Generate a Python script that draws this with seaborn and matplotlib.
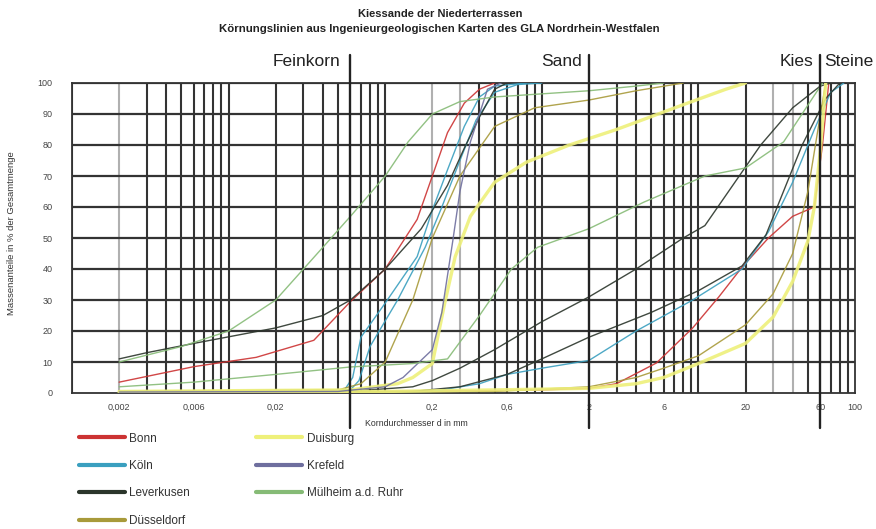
import numpy as np
import pandas as pd
import seaborn as sns
import matplotlib.pyplot as plt
from matplotlib.lines import Line2D

# Korndurchmesser d (mm) und Massenanteile (%) je Koernungslinie
bonn_1_d = [0.002, 0.006, 0.015, 0.035, 0.06, 0.1, 0.16, 0.2, 0.25, 0.32, 0.4, 0.5]
bonn_1_p = [3.5, 8.5, 11.5, 17, 29.5, 40, 56, 70, 84, 93.5, 98, 100]
bonn_2_d = [0.002, 0.1, 0.5, 1, 2, 3, 5.4, 9.2, 13.5, 19, 28, 40, 55, 62, 68]
bonn_2_p = [0.3, 0.5, 0.8, 1, 1.5, 3, 9.7, 21, 31, 40.6, 50, 57, 60, 80, 100]

koeln_1_d = [0.002, 0.03, 0.055, 0.062, 0.07, 0.1, 0.16, 0.2, 0.25, 0.32, 0.4, 0.5, 0.8]
koeln_1_p = [0.3, 0.5, 1, 5, 18, 29, 44, 59, 72, 86, 95.5, 99, 100]
koeln_2_d = [0.002, 0.03, 0.06, 0.068, 0.08, 0.12, 0.18, 0.23, 0.3, 0.38, 0.5, 0.7, 1.0]
koeln_2_p = [0.2, 0.4, 1, 4, 15, 30, 47, 60, 75, 88, 97, 99.5, 100]
koeln_3_d = [0.002, 0.2, 0.4, 0.6, 1, 2, 4, 9.2, 19, 28, 40, 55, 70, 85]
koeln_3_p = [0, 0.5, 3, 6, 8, 10.5, 20, 30, 40, 52, 68, 85, 97, 100]

lev_1_d = [0.002, 0.003, 0.006, 0.02, 0.04, 0.06, 0.1, 0.17, 0.25, 0.32, 0.4, 0.5, 0.6]
lev_1_p = [11, 13, 16, 21, 25, 30, 40, 53, 67, 79, 89, 98, 100]
lev_2_d = [0.002, 0.08, 0.15, 0.2, 0.3, 0.5, 1, 2, 4, 8, 11, 25, 40, 60, 70]
lev_2_p = [0.5, 1, 2, 4, 8, 14, 23, 31, 40, 50, 54, 80, 92, 99, 100]
lev_3_d = [0.002, 0.15, 0.3, 0.6, 1, 2, 5, 10, 19, 27, 46, 65, 80]
lev_3_p = [0, 0.5, 2, 6, 11, 18, 26, 33, 41, 51, 80, 95, 100]

dus_1_d = [0.002, 0.05, 0.07, 0.1, 0.15, 0.2, 0.3, 0.5, 0.9, 2, 4, 8]
dus_1_p = [0.5, 1, 3, 10, 30, 50, 70, 86, 92, 94.5, 97.5, 100]
dus_2_d = [0.002, 0.5, 2, 4, 6, 10, 20, 30, 40, 50, 58, 65]
dus_2_p = [0, 0.5, 2, 5, 8, 12, 22, 32, 45, 65, 85, 100]

duis_1_d = [0.002, 0.06, 0.12, 0.15, 0.2, 0.24, 0.28, 0.35, 0.5, 0.8, 1.5, 3, 8, 15, 20]
duis_1_p = [0.5, 1, 3, 5, 9.5, 29, 44, 57, 68, 74.5, 80, 85, 93, 98, 100]
duis_2_d = [0.002, 0.1, 0.5, 2, 4, 6, 10, 20, 30, 40, 50, 55, 60, 65]
duis_2_p = [0, 0.5, 1, 1.5, 3, 5, 9.5, 16, 24.5, 36, 49, 60, 78, 100]

kre_1_d = [0.002, 0.05, 0.1, 0.13, 0.2, 0.23, 0.27, 0.3, 0.35, 0.45, 0.55]
kre_1_p = [0.3, 0.5, 2, 5, 14, 26, 49, 65, 81, 98, 100]

mh_1_d = [0.002, 0.005, 0.01, 0.02, 0.04, 0.06, 0.1, 0.14, 0.2, 0.3, 0.5, 1, 2, 4, 6]
mh_1_p = [10, 15, 20, 30, 47, 57, 70, 81, 90, 94, 95.5, 96.5, 97.5, 99, 100]
mh_2_d = [0.002, 0.006, 0.02, 0.06, 0.15, 0.25, 0.4, 0.64, 0.94, 2, 4.5, 11, 20, 35, 55, 62]
mh_2_p = [2, 3.5, 6, 8.4, 9.5, 11, 25, 40, 47, 53, 61.6, 70, 72.6, 81, 96, 100]

cities = ["Bonn", "Köln", "Leverkusen", "Düsseldorf", "Duisburg", "Krefeld", "Mülheim a.d. Ruhr"]
colors = ["#cc3333", "#3a9fbf", "#2b352b", "#a89a3a", "#eef07a", "#6e6e9e", "#86bb76"]
x_ticks = [0.002, 0.006, 0.02, 0.2, 0.6, 2, 6, 20, 60, 100]
x_tick_labels = ["0,002", "0,006", "0,02", "0,2", "0,6", "2", "6", "20", "60", "100"]
bounds = [0.06, 2, 60]
zones = ["Feinkorn", "Sand", "Kies", "Steine"]

curves = [
    ("Bonn", bonn_1_d, bonn_1_p), ("Bonn", bonn_2_d, bonn_2_p),
    ("Köln", koeln_1_d, koeln_1_p), ("Köln", koeln_2_d, koeln_2_p), ("Köln", koeln_3_d, koeln_3_p),
    ("Leverkusen", lev_1_d, lev_1_p), ("Leverkusen", lev_2_d, lev_2_p), ("Leverkusen", lev_3_d, lev_3_p),
    ("Düsseldorf", dus_1_d, dus_1_p), ("Düsseldorf", dus_2_d, dus_2_p),
    ("Duisburg", duis_1_d, duis_1_p), ("Duisburg", duis_2_d, duis_2_p),
    ("Krefeld", kre_1_d, kre_1_p),
    ("Mülheim a.d. Ruhr", mh_1_d, mh_1_p), ("Mülheim a.d. Ruhr", mh_2_d, mh_2_p),
]
rows = []
for i, (city, d, p) in enumerate(curves):
    for dd, pp in zip(d, p):
        rows.append({"city": city, "curve": i, "d": dd, "p": pp})
df = pd.DataFrame(rows)
palette = dict(zip(cities, colors))

sns.set_theme(style="white")
plt.rcParams["font.family"] = ["Liberation Sans", "DejaVu Sans"]

fig = plt.figure(figsize=(8.76, 5.29), dpi=100)
ax = fig.add_axes([72 / 876, 1 - 393 / 529, 783 / 876, 310 / 529])
ax.set_xscale("log")

# Gitter
light = [0.002, 0.2, 0.3, 30, 40]
for e in range(-3, 2):
    for s in range(1, 10):
        v = s * 10.0 ** e
        if v in bounds:
            continue
        c = "#b0b0b0" if any(np.isclose(v, l) for l in light) else "#333333"
        ax.axvline(v, color=c, lw=1.5, zorder=1)
for yv in range(10, 101, 10):
    ax.axhline(yv, color="#333333", lw=1.6, zorder=1)

for i, grp in df.groupby("curve", sort=False):
    city = grp["city"].iloc[0]
    lw = 2.4 if city == "Duisburg" else 1.0
    sns.lineplot(data=grp, x="d", y="p", color=palette[city], lw=lw, ax=ax,
                 sort=False, estimator=None, legend=False, zorder=3, alpha=0.9)

for b in bounds:
    ax.axvline(b, ymin=-0.113, ymax=1.09, clip_on=False, color="#222222", lw=1.7, zorder=4)

ax.set_xlim(0.001, 100)
ax.set_ylim(0, 100)
ax.set_xticks(x_ticks)
ax.set_xticklabels(x_tick_labels)
ax.xaxis.set_minor_locator(plt.NullLocator())
ax.set_yticks(range(0, 101, 10))
ax.tick_params(axis="both", length=0, labelsize=6.5, colors="#444444")
ax.tick_params(axis="x", pad=7)
ax.tick_params(axis="y", pad=14)
ax.set_xlabel("")
ax.set_ylabel("")
for sp in ax.spines.values():
    sp.set_color("#333333")
    sp.set_linewidth(1.3)

# Bereichsnamen
zone_kw = dict(fontsize=12.5, va="center", color="#222222", textcoords="offset points", annotation_clip=False)
ax.annotate(zones[0], xy=(bounds[0], 106.8), xytext=(-7, 0), ha="right", **zone_kw)
ax.annotate(zones[1], xy=(bounds[1], 106.8), xytext=(-5, 0), ha="right", **zone_kw)
ax.annotate(zones[2], xy=(bounds[2], 106.8), xytext=(-5, 0), ha="right", **zone_kw)
ax.annotate(zones[3], xy=(bounds[2], 106.8), xytext=(3, 0), ha="left", **zone_kw)

fig.text(0.502, 1 - 14 / 529, "Kiessande der Niederterrassen", ha="center", va="center",
         fontsize=8, fontweight="bold", color="#222222")
fig.text(0.502, 1 - 29 / 529, "Körnungslinien aus Ingenieurgeologischen Karten des GLA Nordrhein-Westfalen",
         ha="center", va="center", fontsize=8.2, fontweight="bold", color="#222222")
fig.text(12 / 876, 1 - 233 / 529, "Massenanteile in % der Gesamtmenge", rotation=90,
         ha="center", va="center", fontsize=6.8, color="#333333")
fig.text(365 / 876, 1 - 423 / 529, "Korndurchmesser d in mm", ha="left", va="center",
         fontsize=6.3, color="#333333")

handles = [Line2D([0], [0], color=c, lw=3) for c in colors]
fig.legend(handles, cities, loc="upper left", bbox_to_anchor=(68 / 876, 1 - 422 / 529),
           ncol=2, frameon=False, fontsize=8.5, handlelength=3.9, labelspacing=1.3,
           columnspacing=5.6, handletextpad=0.4, labelcolor="#333333")

fig.savefig("out.png", dpi=100)
